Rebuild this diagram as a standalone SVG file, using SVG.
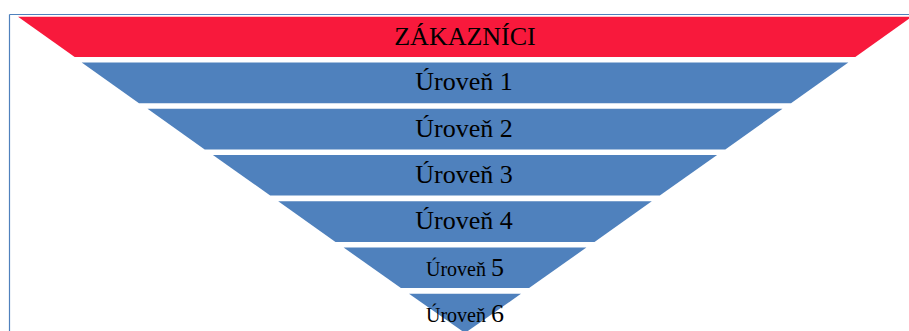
<svg xmlns="http://www.w3.org/2000/svg" width="909" height="331" viewBox="0 0 909 331">
<style>
.lvl{fill:#4F81BD}
.top{fill:#F8193C}
.t{font-family:"Liberation Serif","Times New Roman",serif;fill:#000;text-anchor:middle}
.big{font-size:26px}
.sm{font-size:20px}
</style>
<rect width="909" height="331" fill="#fff"/>
<g id="frame" fill="none" stroke="#4F81BD" stroke-width="1.2">
<line x1="9.5" y1="14.5" x2="909" y2="14.5"/>
<line x1="9.5" y1="14.5" x2="9.5" y2="331"/>
</g>
<g id="n0"><polygon class="top" points="18,16.7 912,16.7 855.3,57 74.7,57"/><text class="t big" x="465" y="45.3">ZÁKAZNÍCI</text></g>
<g id="n1"><polygon class="lvl" points="81.7,62.5 848.3,62.5 791,103.3 139,103.3"/><text class="t big" x="464" y="90.3">Úroveň 1</text></g>
<g id="n2"><polygon class="lvl" points="147.5,108.8 782.5,108.8 725.3,149.4 204.7,149.4"/><text class="t big" x="464" y="136.6">Úroveň 2</text></g>
<g id="n3"><polygon class="lvl" points="212.9,155 717.1,155 659.8,195.6 270.2,195.6"/><text class="t big" x="464" y="182.9">Úroveň 3</text></g>
<g id="n4"><polygon class="lvl" points="278.2,201.3 651.8,201.3 594.5,241.9 335.5,241.9"/><text class="t big" x="464" y="229.3">Úroveň 4</text></g>
<g id="n5"><polygon class="lvl" points="343.6,247.5 586.4,247.5 529.1,288.1 400.9,288.1"/><text class="t sm" x="465" y="275.5">Úroveň <tspan font-size="26px">5</tspan></text></g>
<g id="n6"><polygon class="lvl" points="409,293.8 521,293.8 465,333"/><text class="t sm" x="465" y="321.7">Úroveň <tspan font-size="26px">6</tspan></text></g>
<g id="connectors"/>
</svg>
